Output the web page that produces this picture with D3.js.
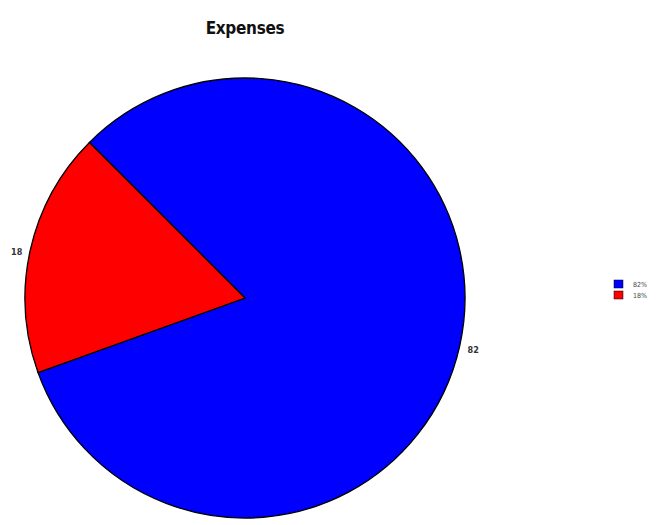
<!DOCTYPE html>
<html>
<head>
<meta charset="utf-8">
<script src="https://cdn.jsdelivr.net/npm/d3@7"></script>
<style>
  body { margin: 0; background: #fff; }
</style>
</head>
<body>
<script>
// data
var labels = ["82%", "18%"];
var values = [82, 18];
var colors = ["#0000ff", "#ff0000"];

var width = 663, height = 525,
    cx = 245, cy = 298,
    radius = 220;

var svg = d3.select("body").append("svg")
    .attr("width", width)
    .attr("height", height);

// title
svg.append("text")
    .attr("x", 245)
    .attr("y", 34)
    .attr("text-anchor", "middle")
    .style("font-family", "'DejaVu Sans Condensed', 'DejaVu Sans', sans-serif")
    .style("font-stretch", "condensed")
    .style("font-weight", "bold")
    .style("font-size", "17px")
    .style("letter-spacing", "-0.3px")
    .style("fill", "#111")
    .text("Expenses");

// pie starts a bit left of 12 o'clock, blue first
var pie = d3.pie()
    .sort(null)
    .startAngle(-Math.PI / 4)
    .endAngle(-Math.PI / 4 + 2 * Math.PI)
    .value(function(d) { return d; });

var arc = d3.arc()
    .outerRadius(radius)
    .innerRadius(0);

var labelArc = d3.arc()
    .outerRadius(radius + 4)
    .innerRadius(radius + 4);

var g = svg.append("g")
    .attr("transform", "translate(" + cx + "," + cy + ")");

var slices = g.selectAll(".arc")
    .data(pie(values))
    .enter().append("g")
    .attr("class", "arc");

slices.append("path")
    .attr("d", arc)
    .style("fill", function(d, i) { return colors[i]; })
    .style("stroke", "#000")
    .style("stroke-width", 1.3);

slices.append("text")
    .attr("transform", function(d) {
        var c = labelArc.centroid(d);
        var side = c[0] < 0 ? -4 : 4;
        return "translate(" + (c[0] + side) + "," + (c[1] + 3) + ")";
    })
    .attr("dy", ".35em")
    .attr("text-anchor", function(d) { return labelArc.centroid(d)[0] < 0 ? "end" : "start"; })
    .style("font-family", "'DejaVu Sans Condensed', 'DejaVu Sans', sans-serif")
    .style("font-weight", "bold")
    .style("font-size", "9px")
    .style("fill", "#333")
    .text(function(d) { return d.data; });

// legend
var legend = svg.append("g")
    .attr("transform", "translate(614,280)");

var items = legend.selectAll(".item")
    .data(labels)
    .enter().append("g")
    .attr("class", "item")
    .attr("transform", function(d, i) { return "translate(0," + (i * 11) + ")"; });

items.append("rect")
    .attr("width", 9)
    .attr("height", 8)
    .style("fill", function(d, i) { return colors[i]; })
    .style("stroke", "#000")
    .style("stroke-width", 0.5);

items.append("text")
    .attr("x", 19)
    .attr("y", 7)
    .style("font-family", "'DejaVu Sans Condensed', 'DejaVu Sans', sans-serif")
    .style("font-size", "7px")
    .style("fill", "#444")
    .text(function(d) { return d; });
</script>
</body>
</html>
